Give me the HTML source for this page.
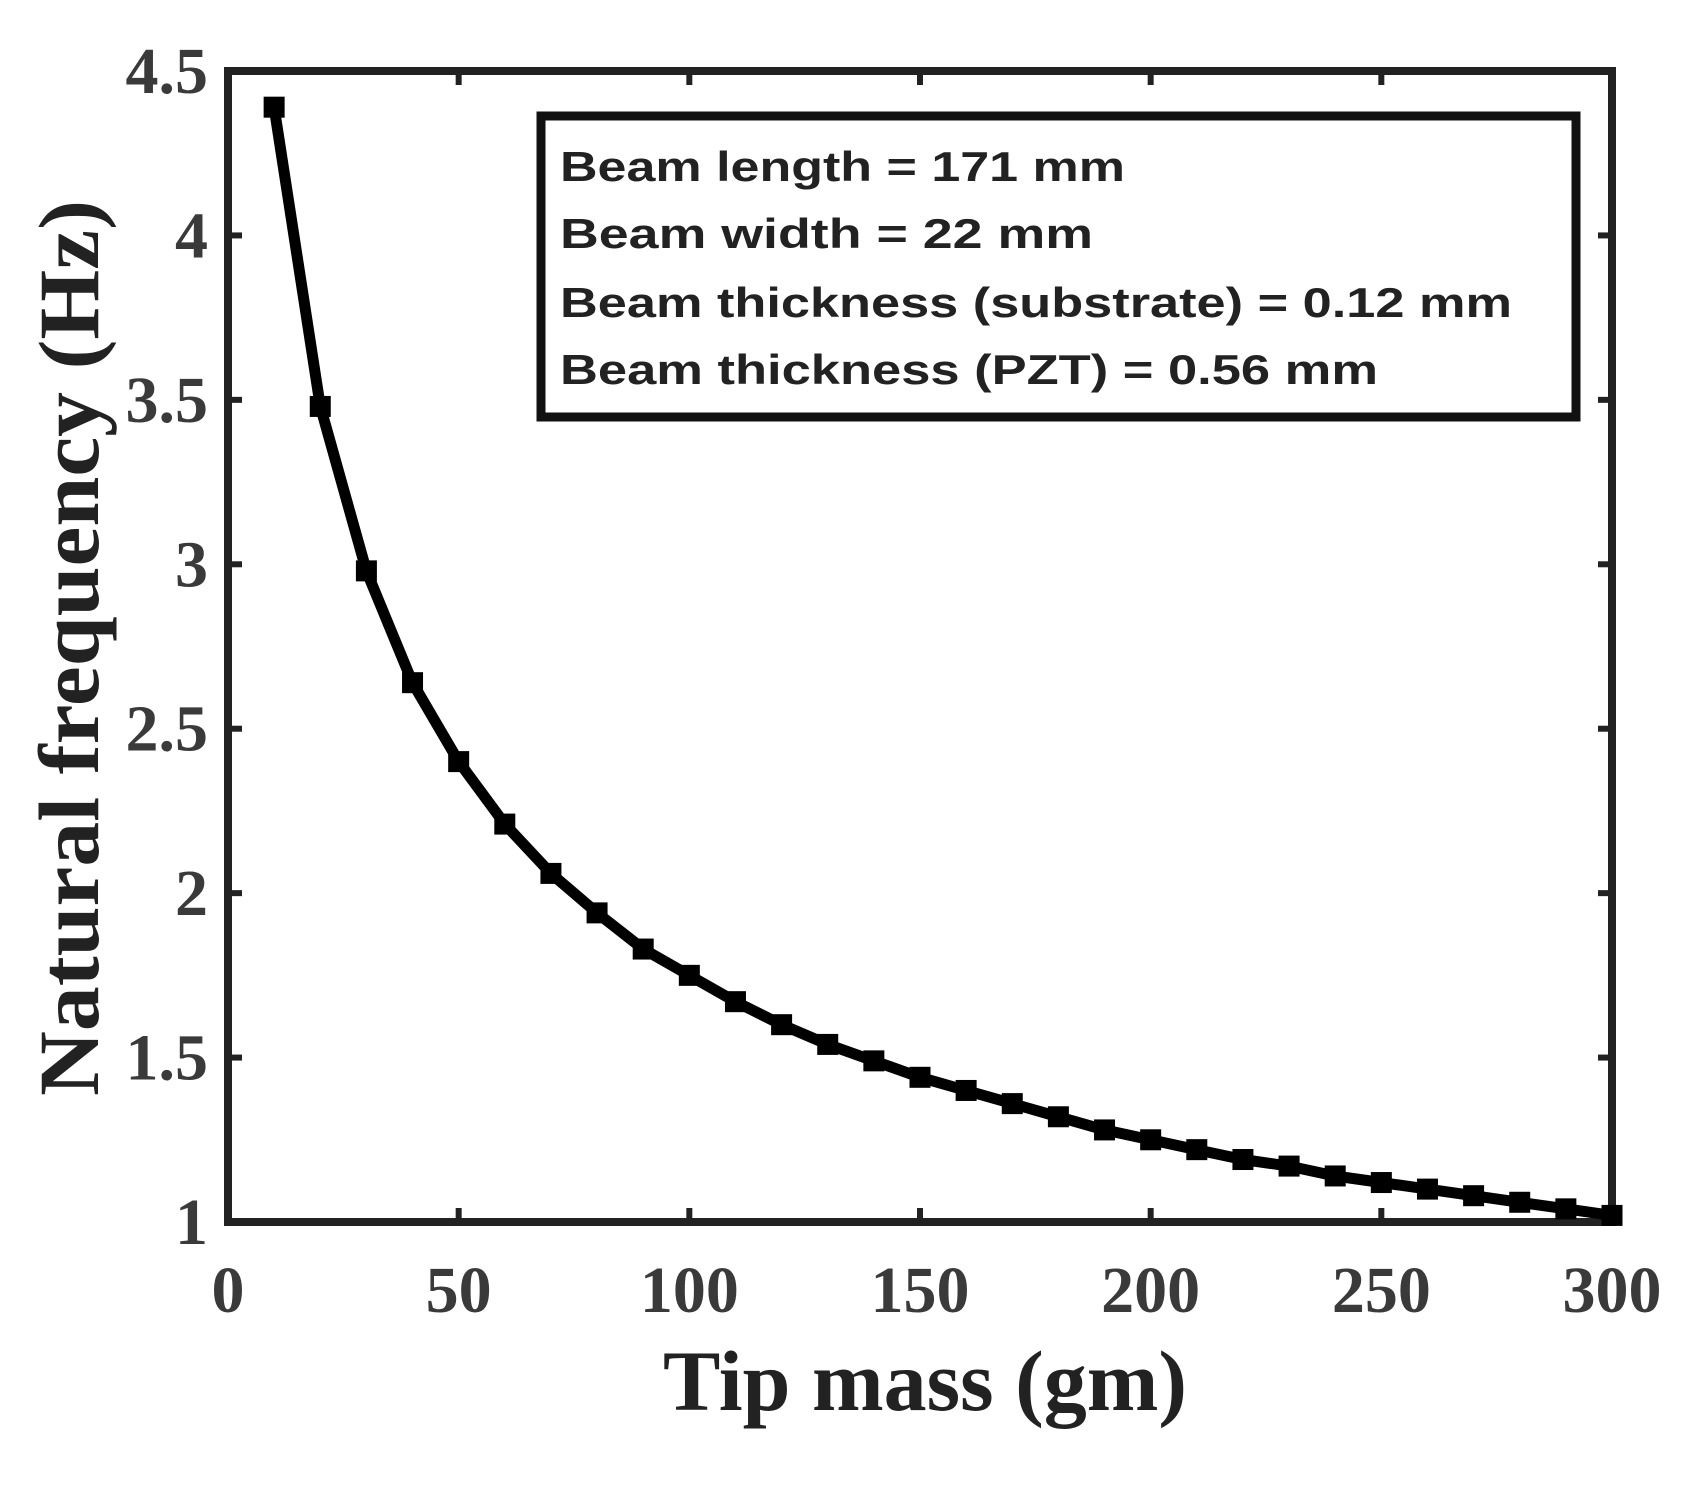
<!DOCTYPE html>
<html><head><meta charset="utf-8"><style>
html,body{margin:0;padding:0;background:#fff;}
svg{display:block;}
.tk{font-family:"Liberation Serif",serif;font-weight:bold;font-size:66px;fill:#3a3a3a;}
</style></head><body>
<svg id="chart" width="1691" height="1490" viewBox="0 0 1691 1490" xmlns="http://www.w3.org/2000/svg">
<rect width="1691" height="1490" fill="#fff"/>
<g id="plot"></g>
<g id="legend">
<rect x="541" y="116" width="1035" height="301" fill="#fff" stroke="#111" stroke-width="9"/>
<g font-family="Liberation Sans, sans-serif" font-weight="bold" font-size="42" fill="#222">
<text x="560" y="181" textLength="565" lengthAdjust="spacingAndGlyphs">Beam length = 171 mm</text>
<text x="560" y="248" textLength="533" lengthAdjust="spacingAndGlyphs">Beam width  = 22 mm</text>
<text x="560" y="317" textLength="952" lengthAdjust="spacingAndGlyphs">Beam thickness (substrate) = 0.12 mm</text>
<text x="560" y="384" textLength="818" lengthAdjust="spacingAndGlyphs">Beam thickness (PZT) = 0.56 mm</text>
</g></g>
<text x="925" y="1410" text-anchor="middle" font-family="Liberation Serif, serif" font-weight="bold" font-size="86" fill="#222">Tip mass (gm)</text>
<text transform="translate(98,648) rotate(-90)" text-anchor="middle" font-family="Liberation Serif, serif" font-weight="bold" font-size="86" fill="#222" textLength="896" lengthAdjust="spacingAndGlyphs">Natural frequency (Hz)</text>
</svg>
<script>
const xTicks = [0, 50, 100, 150, 200, 250, 300];
const yTicks = [1, 1.5, 2, 2.5, 3, 3.5, 4, 4.5];
const yTickLabels = ["1", "1.5", "2", "2.5", "3", "3.5", "4", "4.5"];
const tipMass = [10,20,30,40,50,60,70,80,90,100,110,120,130,140,150,160,170,180,190,200,210,220,230,240,250,260,270,280,290,300];
const frequency = [4.39,3.48,2.98,2.64,2.40,2.21,2.06,1.94,1.83,1.75,1.67,1.60,1.54,1.49,1.44,1.40,1.36,1.32,1.28,1.25,1.22,1.19,1.17,1.14,1.12,1.10,1.08,1.06,1.04,1.02];

const L=228,R=1612,T=71,B=1222;
const xs=v=>L+(v-0)/(300-0)*(R-L);
const ys=v=>B-(v-1)/(4.5-1)*(B-T);
const NS='http://www.w3.org/2000/svg';
const plot=document.getElementById('plot');
function mk(tag,attrs){const e=document.createElementNS(NS,tag);for(const k in attrs)e.setAttribute(k,attrs[k]);plot.appendChild(e);return e;}

const frame=mk('rect',{x:L,y:T,width:R-L,height:B-T,fill:'none',stroke:'#222','stroke-width':8});



xTicks.forEach(v=>{
  const x=xs(v);
  const t1=mk('line',{x1:x,y1:B,x2:x,y2:B-14,stroke:'#222','stroke-width':6});
  
  
  const t2=mk('line',{x1:x,y1:T,x2:x,y2:T+14,stroke:'#222','stroke-width':6});
  
  
  const lb=mk('text',{x:x,y:1312,'text-anchor':'middle',class:'tk'});
  lb.textContent=String(v);
  
  
});
yTicks.forEach((v,i)=>{
  const y=ys(v);
  const t1=mk('line',{x1:L,y1:y,x2:L+14,y2:y,stroke:'#222','stroke-width':6});
  
  
  const t2=mk('line',{x1:R,y1:y,x2:R-14,y2:y,stroke:'#222','stroke-width':6});
  
  
  const lb=mk('text',{x:208,y:y+22,'text-anchor':'end',class:'tk'});
  lb.textContent=yTickLabels[i];
  
  
});

const pts=tipMass.map((m,i)=>xs(m).toFixed(1)+','+ys(frequency[i]).toFixed(1)).join(' ');
const line=mk('polyline',{points:pts,fill:'none',stroke:'#000','stroke-width':11,'stroke-linejoin':'round'});


tipMass.forEach((m,i)=>{
  const s=21;
  const r=mk('rect',{x:xs(m)-s/2,y:ys(frequency[i])-s/2,width:s,height:s,fill:'#000'});
  
  
});
</script>
</body></html>
